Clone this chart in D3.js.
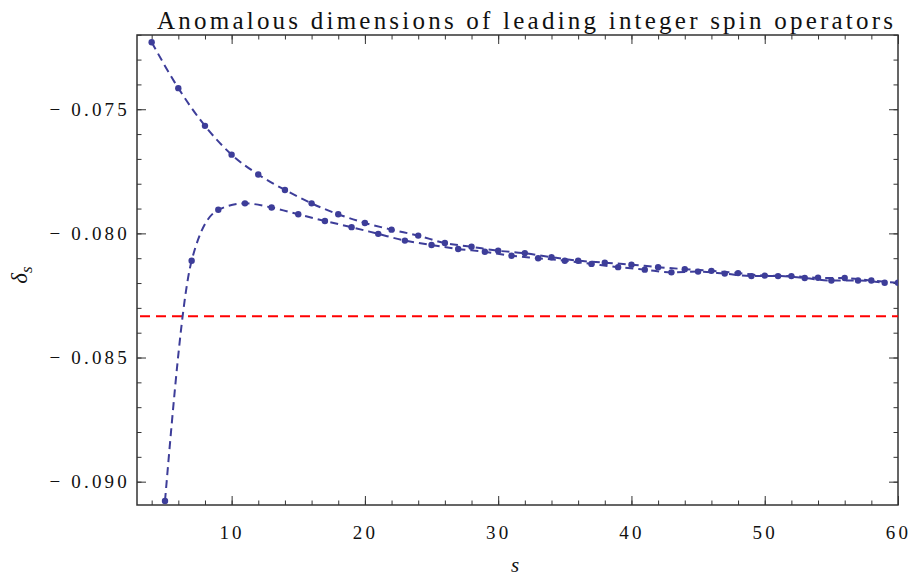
<!DOCTYPE html>
<html>
  <head>
    <meta charset="utf-8">
    <title>Anomalous dimensions</title>
    <style>
      body { margin: 0; background: white; }
      svg text { font-family: "Liberation Serif", "Times New Roman", serif; fill: #111; }
      .tick line { stroke: #333; stroke-width: 1; }
      .tick text { font-size: 19px; letter-spacing: 3.2px; }
      .frame { fill: none; stroke: #333; stroke-width: 1.5; }
    </style>
  </head>
  <body>
    <svg width="910" height="580"></svg>
    <script src="https://d3js.org/d3.v7.min.js"></script>
    <script type="application/javascript">
      // even spins (upper branch)
      const evenS = [4, 6, 8, 10, 12, 14, 16, 18, 20, 22, 24, 26, 28, 30, 32, 34, 36, 38, 40,
                     42, 44, 46, 48, 50, 52, 54, 56, 58, 60];
      const evenDelta = [-0.0723, -0.07415, -0.07567, -0.07683, -0.07763, -0.07825, -0.07879,
                         -0.07923, -0.07958, -0.07985, -0.08009, -0.08039, -0.08054, -0.0807,
                         -0.0808, -0.08096, -0.0811, -0.08118, -0.08126, -0.08136, -0.08144,
                         -0.08151, -0.0816, -0.0817, -0.08172, -0.08179, -0.0818, -0.0819, -0.08199];
      // odd spins (lower branch)
      const oddS = [5, 7, 9, 11, 13, 15, 17, 19, 21, 23, 25, 27, 29, 31, 33, 35, 37, 39,
                    41, 43, 45, 47, 49, 51, 53, 55, 57, 59];
      const oddDelta = [-0.09078, -0.0811, -0.07905, -0.07879, -0.07896, -0.07923, -0.0795,
                        -0.07975, -0.08002, -0.08029, -0.08047, -0.08063, -0.08074, -0.0809,
                        -0.081, -0.0811, -0.08123, -0.08136, -0.08146, -0.08157, -0.08154,
                        -0.08162, -0.08172, -0.08172, -0.0818, -0.0819, -0.0819, -0.08199];
      const asymptote = -1 / 12;

      const xMajor = [10, 20, 30, 40, 50, 60];
      const xMinor = d3.range(4, 61, 2);
      const yMajor = [-0.075, -0.080, -0.085, -0.090];
      const yMinor = d3.range(-0.090, -0.0715, 0.001);

      const svg = d3.select("svg");
      const pLeft = 137, pRight = 898, pTop = 35, pBottom = 505;

      const x = d3.scaleLinear().domain([2.9, 60]).range([pLeft, pRight]);
      const y = d3.scaleLinear().domain([-0.09094, -0.07201]).range([pBottom, pTop]);

      const blue = "rgb(61,61,153)";
      const fmt = d => "\u2212 " + d3.format(".3f")(-d);

      // minor ticks on all four sides
      svg.append("g").attr("transform", `translate(0,${pBottom})`)
        .call(d3.axisBottom(x).tickValues(xMinor).tickSize(-4.5).tickFormat(""));
      svg.append("g").attr("transform", `translate(0,${pTop})`)
        .call(d3.axisTop(x).tickValues(xMinor).tickSize(-4.5).tickFormat(""));
      svg.append("g").attr("transform", `translate(${pLeft},0)`)
        .call(d3.axisLeft(y).tickValues(yMinor).tickSize(-4.5).tickFormat(""));
      svg.append("g").attr("transform", `translate(${pRight},0)`)
        .call(d3.axisRight(y).tickValues(yMinor).tickSize(-4.5).tickFormat(""));

      // major ticks
      svg.append("g").attr("transform", `translate(0,${pBottom})`)
        .call(d3.axisBottom(x).tickValues(xMajor).tickSizeInner(-9).tickSizeOuter(0).tickPadding(21));
      svg.append("g").attr("transform", `translate(0,${pTop})`)
        .call(d3.axisTop(x).tickValues(xMajor).tickSize(-9).tickFormat(""));
      svg.append("g").attr("transform", `translate(${pLeft},0)`)
        .call(d3.axisLeft(y).tickValues(yMajor).tickSizeInner(-9).tickSizeOuter(0).tickPadding(7).tickFormat(fmt));
      svg.append("g").attr("transform", `translate(${pRight},0)`)
        .call(d3.axisRight(y).tickValues(yMajor).tickSize(-9).tickFormat(""));

      svg.selectAll(".domain").remove();
      svg.selectAll("g").attr("font-family", null);

      svg.append("rect").attr("class", "frame")
        .attr("x", pLeft).attr("y", pTop)
        .attr("width", pRight - pLeft).attr("height", pBottom - pTop);

      svg.append("defs").append("clipPath").attr("id", "clip")
        .append("rect").attr("x", pLeft).attr("y", pTop)
        .attr("width", pRight - pLeft).attr("height", pBottom - pTop);

      const plot = svg.append("g").attr("clip-path", "url(#clip)");

      plot.append("line")
        .attr("x1", pLeft).attr("x2", pRight)
        .attr("y1", y(asymptote)).attr("y2", y(asymptote))
        .attr("stroke", "#ff0000").attr("stroke-width", 2)
        .attr("stroke-dasharray", "10,6").attr("stroke-dashoffset", -3);

      const line = d3.line()
        .x(d => x(d[0])).y(d => y(d[1]))
        .curve(d3.curveMonotoneX);

      [[evenS, evenDelta], [oddS, oddDelta]].forEach(([ss, ds]) => {
        const pts = ss.map((s, i) => [s, ds[i]]);
        plot.append("path")
          .attr("d", line(pts))
          .attr("fill", "none")
          .attr("stroke", blue).attr("stroke-width", 2)
          .attr("stroke-dasharray", "8,5");
        plot.selectAll(null)
          .data(pts)
          .enter()
            .append("circle")
            .attr("cx", d => x(d[0]))
            .attr("cy", d => y(d[1]))
            .attr("r", 3.2)
            .attr("fill", blue);
      });

      svg.append("text")
        .attr("x", 157).attr("y", 29)
        .attr("textLength", 736).attr("lengthAdjust", "spacing")
        .style("font-size", "25px")
        .text("Anomalous dimensions of leading integer spin operators");

      svg.append("text")
        .attr("transform", "translate(27,275) rotate(-90)")
        .attr("text-anchor", "middle")
        .style("font-size", "23px").style("font-style", "italic")
        .call(t => {
          t.append("tspan").text("\u03b4");
          t.append("tspan").attr("dy", 5).style("font-size", "17px").text("s");
        });

      svg.append("text")
        .attr("x", 515).attr("y", 572)
        .attr("text-anchor", "middle")
        .style("font-size", "21px").style("font-style", "italic")
        .text("s");
    </script>
  </body>
</html>
